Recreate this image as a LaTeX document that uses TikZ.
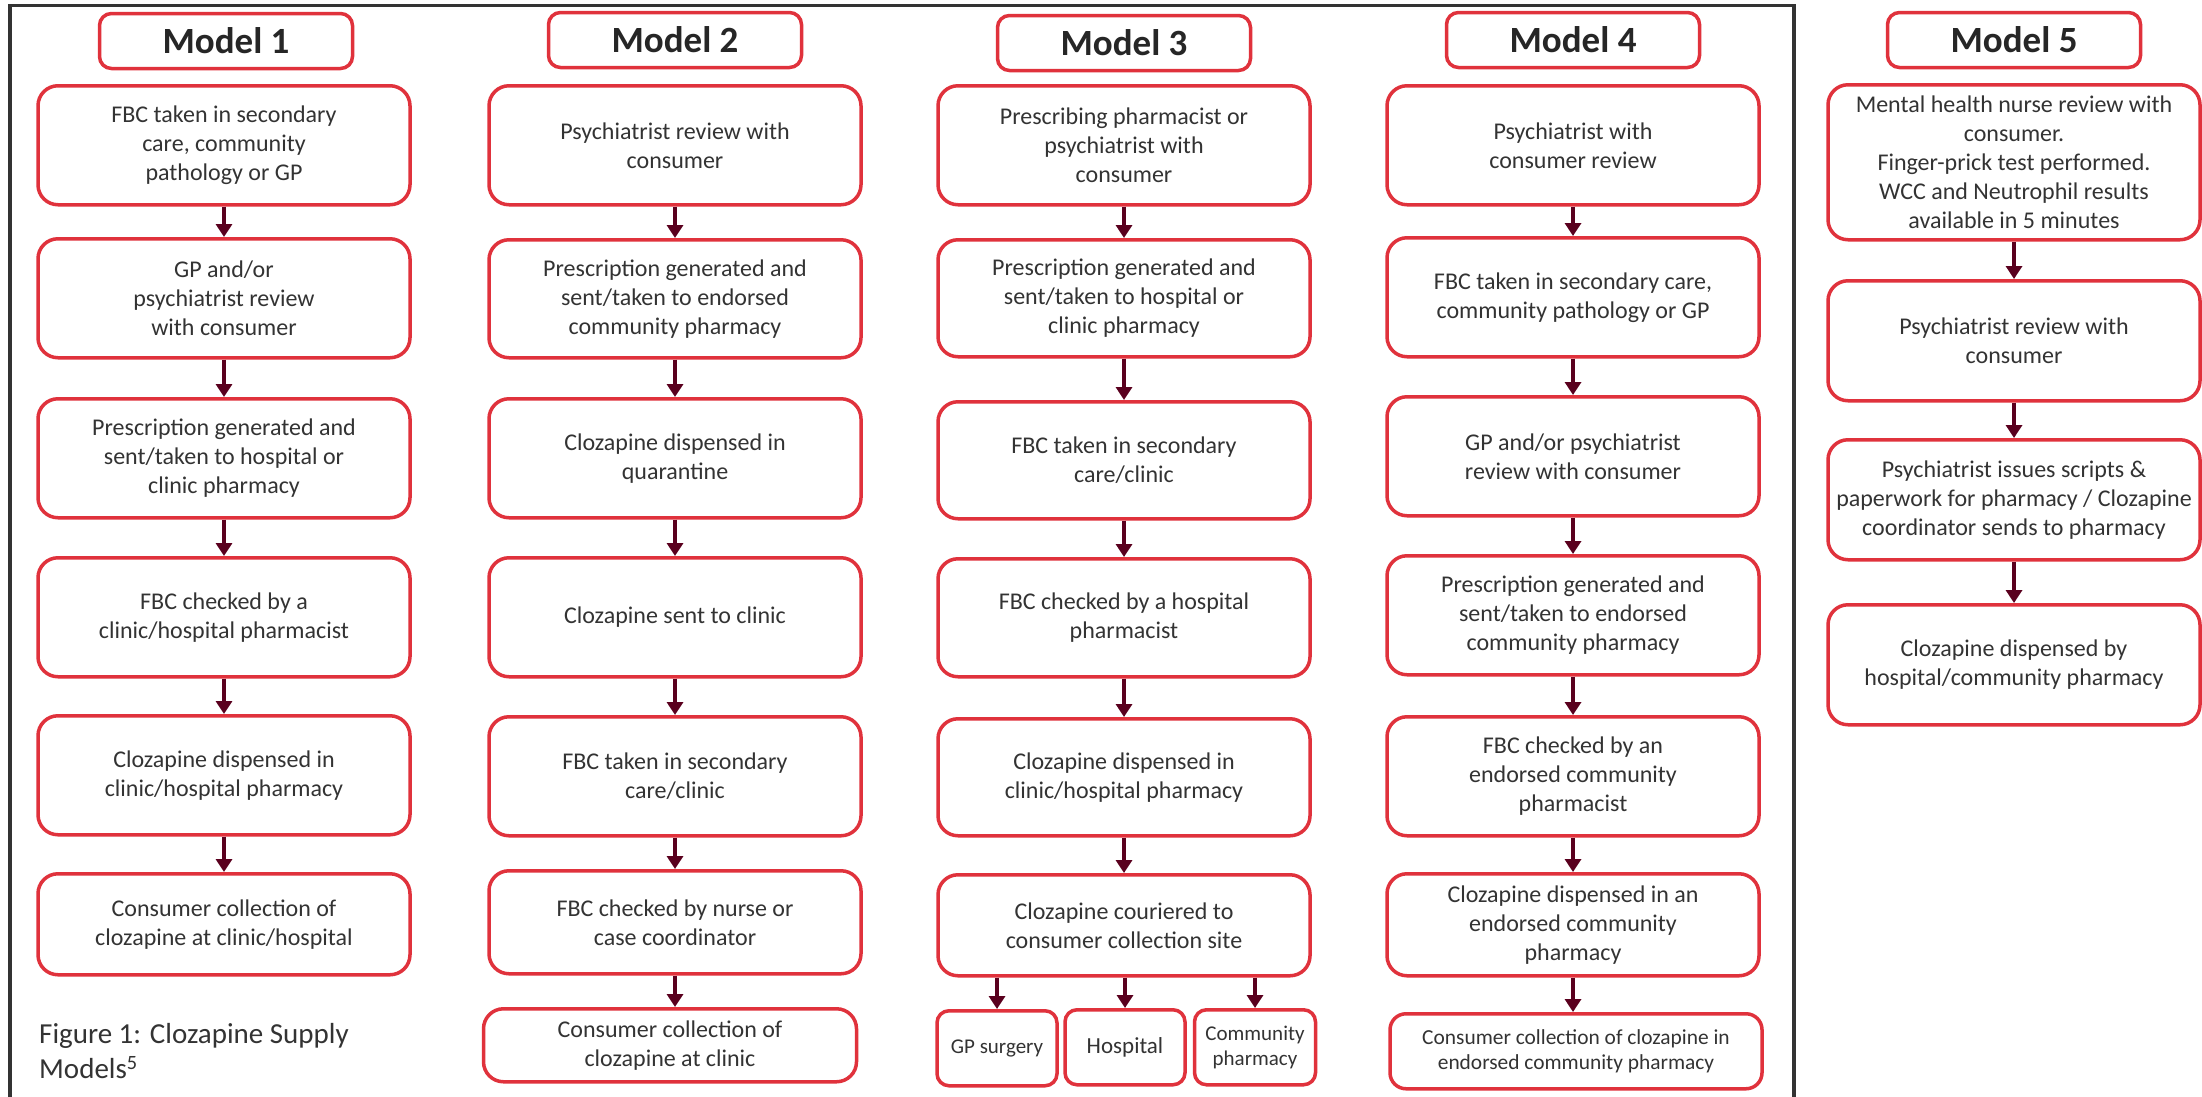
\documentclass[tikz,border=0pt]{standalone}
\usepackage{fontspec}
\setmainfont{Carlito}
\usepackage{tikz}
\usetikzlibrary{arrows.meta,positioning,calc}
\definecolor{boxred}{HTML}{E0323C}
\definecolor{arrowred}{HTML}{5A001E}
\definecolor{textgray}{HTML}{333333}
\tikzset{
  stepbox/.style={draw=boxred,line width=3.5pt,rounded corners=20pt,fill=white,align=center,text=textgray,minimum width=372pt,inner sep=2pt,anchor=north,font=\fontsize{24}{29}\selectfont},
  titlebox/.style={draw=boxred,line width=3.5pt,rounded corners=12pt,minimum width=253pt,minimum height=55pt,inner sep=0pt,text=black!85,font=\fontsize{37}{44}\selectfont\bfseries},
  sitebox/.style={draw=boxred,line width=3.5pt,rounded corners=12pt,minimum width=120pt,minimum height=75pt,anchor=north,align=center,inner sep=1pt,text=textgray,font=\fontsize{21}{25}\selectfont},
  arr/.style={-{Triangle[width=16pt,length=13pt]},line width=4pt,draw=arrowred},
}

\begin{document}
\begin{tikzpicture}[x=1pt,y=-1pt]
\path[use as bounding box,fill=white] (0,0) rectangle (2202,1096);
% frame round models 1-4
\draw[line width=3.5pt,draw=black!80] (10,1100) |- (1794,5.5) -- (1794,1100);
\foreach \k/\x/\y in {1/226/39,2/675/38,3/1124/41,4/1573/38,5/2014/38} {\node[titlebox] (t\k) at (\x,\y+2) {Model \k};}
% model 1
\foreach \i/\y/\h/\txt in {1/84/119/{FBC taken in secondary\\care, community\\pathology or GP},2/237/119/{GP and/or\\psychiatrist review\\with consumer},3/397/119/{Prescription generated and\\sent/taken to hospital or\\clinic pharmacy},4/556/119/{FBC checked by a\\clinic/hospital pharmacist},5/714/119/{Clozapine dispensed in\\clinic/hospital pharmacy},6/872/101/{Consumer collection of\\clozapine at clinic/hospital}}
{\node[stepbox,minimum height=\h pt] (m1-\i) at (224,\y) {\txt};}
% model 2
\foreach \i/\y/\h/\txt in {1/84/119/{Psychiatrist review with\\consumer},2/238/118/{Prescription generated and\\sent/taken to endorsed\\community pharmacy},3/397/119/{Clozapine dispensed in\\quarantine},4/556/119/{Clozapine sent to clinic},5/715/119/{FBC taken in secondary\\care/clinic},6/869/103/{FBC checked by nurse or\\case coordinator}}
{\node[stepbox,minimum height=\h pt] (m2-\i) at (675,\y) {\txt};}
\node[stepbox,minimum width=373pt,minimum height=73pt] (m2-7) at (670,1007) {Consumer collection of\\clozapine at clinic};
% model 3
\foreach \i/\y/\h/\txt in {1/84/119/{Prescribing pharmacist or\\psychiatrist with\\consumer},2/238/117/{Prescription generated and\\sent/taken to hospital or\\clinic pharmacy},3/400/117/{FBC taken in secondary\\care/clinic},4/557/118/{FBC checked by a hospital\\pharmacist},5/717/117/{Clozapine dispensed in\\clinic/hospital pharmacy},6/873/101/{Clozapine couriered to\\consumer collection site}}
{\node[stepbox,minimum height=\h pt] (m3-\i) at (1124,\y) {\txt};}
\node[sitebox] (gp) at (997,1009) {GP surgery};
\node[sitebox,font=\fontsize{23}{27}\selectfont] (hosp) at (1125,1008) {Hospital};
\node[sitebox,minimum width=121pt] (comm) at (1255,1008) {Community\\pharmacy};
% model 4
\foreach \i/\y/\h/\txt in {1/84/119/{Psychiatrist with\\consumer review},2/236/119/{FBC taken in secondary care,\\community pathology or GP},3/395/119/{GP and/or psychiatrist\\review with consumer},4/554/119/{Prescription generated and\\sent/taken to endorsed\\community pharmacy},5/715/119/{FBC checked by an\\endorsed community\\pharmacist},6/872/102/{Clozapine dispensed in an\\endorsed community\\pharmacy}}
{\node[stepbox,minimum height=\h pt] (m4-\i) at (1573,\y) {\txt};}
\node[stepbox,minimum height=75pt,rounded corners=16pt,font=\fontsize{21.4}{25}\selectfont] (m4-7) at (1576,1012) {Consumer collection of clozapine in\\endorsed community pharmacy};
% model 5
\foreach \i/\y/\h/\txt in {1/83/155/{Mental health nurse review with\\consumer.\\Finger-prick test performed.\\WCC and Neutrophil results\\available in 5 minutes},2/279/120/{Psychiatrist review with\\consumer},3/438/120/{Psychiatrist issues scripts \&\\paperwork for pharmacy / Clozapine\\coordinator sends to pharmacy},4/603/120/{Clozapine dispensed by\\hospital/community pharmacy}}
{\node[stepbox,minimum height=\h pt] (m5-\i) at (2014,\y) {\txt};}
% arrows
\foreach \k/\n in {1/5,2/6,3/5,4/6,5/3} {\foreach \i [count=\j from 2] in {1,...,\n} {\draw[arr] (m\k-\i.south) -- (m\k-\i.south |- m\k-\j.north);}}
\foreach \s in {gp,hosp,comm} {\draw[arr] (m3-6.south -| \s.north) -- (\s.north);}
\node[anchor=north west,inner sep=0pt,align=left,text=textgray,font=\fontsize{29}{35}\selectfont] (caption) at (39,1023) {Figure 1: Clozapine Supply\\Models\textsuperscript{5}};
\end{tikzpicture}
\end{document}
